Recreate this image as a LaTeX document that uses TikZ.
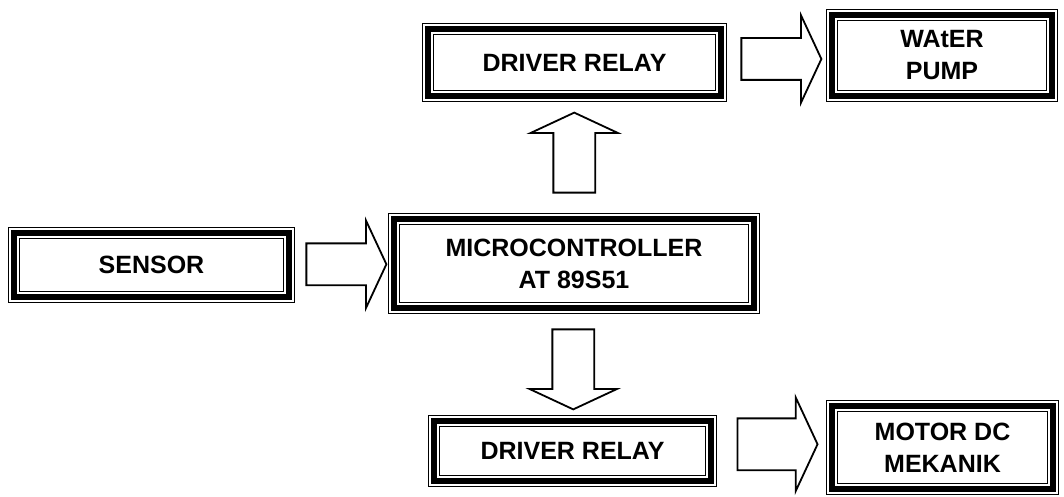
\documentclass[tikz,border=0pt]{standalone}
\usepackage{fontspec}
\setmainfont{Liberation Sans}
\usetikzlibrary{shapes.arrows, calc}

\begin{document}
\begin{tikzpicture}[
	x=1pt, y=-1pt,
	box/.style = {draw, line width=6pt, inner sep=0pt, align=center,
		font=\fontsize{25}{32}\selectfont\bfseries,
		preaction={draw, line width=12pt},
		preaction={draw=white, line width=10pt}},
	blk/.style = {single arrow, draw, line width=1.8pt, fill=white,
		inner sep=20pt, minimum height=80pt,
		single arrow head extend=23pt, single arrow tip angle=130},
     ]
\useasboundingbox (0,0) rectangle (1064,497);
%
		\node (sensor) [box, minimum width=275pt, minimum height=64pt] at (151.5,265) {SENSOR};
		\node (mcu) [box, minimum width=360pt, minimum height=89pt] at (574,263.5) {MICROCONTROLLER\\AT 89S51};
		\node (relayup) [box, minimum width=293pt, minimum height=67pt] at (574.5,62.5) {DRIVER RELAY};
		\node (pump) [box, minimum width=220pt, minimum height=81pt] at (942,55.5) {WAtER\\PUMP};
		\node (relaydn) [box, minimum width=277pt, minimum height=60pt] at (572.5,451) {DRIVER RELAY};
		\node (motor) [box, minimum width=221pt, minimum height=83pt] at (942.5,447.5) {MOTOR DC\\MEKANIK};
%
		\node (a1) [blk] at ($(sensor.east)!0.5!(mcu.west)$) {};
		\node (a2) [blk, rotate=90] at ($(mcu.north)!0.5!(relayup.south)$) {};
		\node (a3) [blk, rotate=-90] at ($(mcu.south)!0.5!(relaydn.north)$) {};
		\node (a4) [blk] at ($(relayup.east)!0.5!(pump.west)$) {};
		\node (a5) [blk, inner sep=25pt, single arrow head extend=21pt, yshift=5pt] at ($(relaydn.east)!0.5!(motor.west)$) {};
\end{tikzpicture}
\end{document}
